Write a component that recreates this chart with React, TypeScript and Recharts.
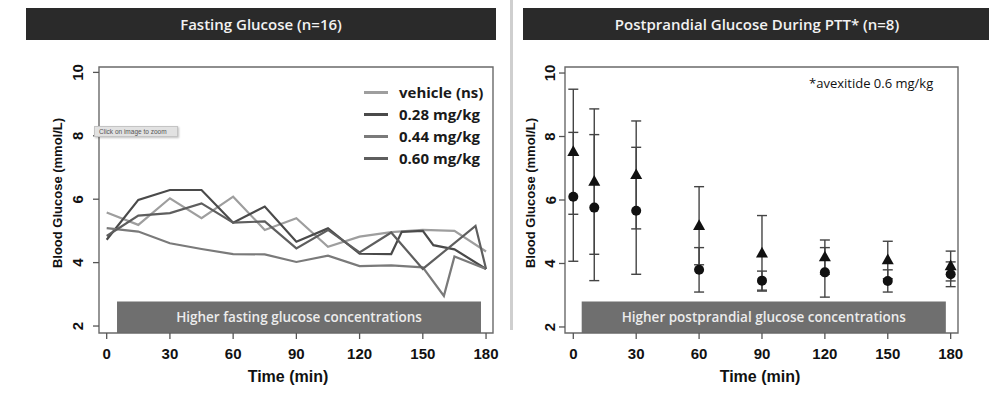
import React from 'react';
import {
  LineChart,
  Line,
  XAxis,
  YAxis,
  ReferenceArea,
  Legend,
  ComposedChart,
  Scatter,
  ErrorBar,
} from 'recharts';

// ---------- data ----------
const timeTicks = [0, 30, 60, 90, 120, 150, 180];
const glucoseTicks = [2, 4, 6, 8, 10];

const seriesNames = ['vehicle (ns)', '0.28 mg/kg', '0.44 mg/kg', '0.60 mg/kg'];

const vehicleTimes = [0, 15, 30, 45, 60, 75, 90, 105, 120, 135, 150, 165, 180];
const vehicleValues = [5.58, 5.19, 6.03, 5.4, 6.08, 5.03, 5.4, 4.5, 4.82, 4.96, 5.03, 5.0, 4.35];

const dose028Times = [0, 15, 30, 45, 60, 75, 90, 105, 120, 135, 140, 150, 155, 165, 180];
const dose028Values = [4.72, 5.98, 6.29, 6.29, 5.26, 5.77, 4.66, 5.08, 4.28, 4.27, 4.97, 5.0, 4.55, 4.42, 3.8];

const dose044Times = [0, 15, 30, 45, 60, 75, 90, 105, 120, 135, 150, 160, 165, 180];
const dose044Values = [5.09, 4.98, 4.61, 4.43, 4.27, 4.26, 4.02, 4.22, 3.89, 3.91, 3.85, 2.95, 4.19, 3.8];

const dose060Times = [0, 15, 30, 45, 60, 75, 90, 105, 120, 135, 150, 175, 180];
const dose060Values = [4.84, 5.48, 5.56, 5.87, 5.26, 5.3, 4.45, 5.03, 4.32, 4.95, 3.8, 5.16, 3.8];

const pptTimes = [0, 10, 30, 60, 90, 120, 150, 180];
const triangleMeans = [7.52, 6.58, 6.79, 5.19, 4.32, 4.2, 4.11, 3.92];
const triangleErrors = [1.97, 2.29, 1.7, 1.23, 1.19, 0.54, 0.59, 0.47];
const circleMeans = [6.1, 5.76, 5.66, 3.8, 3.46, 3.72, 3.45, 3.66];
const circleErrors = [2.03, 2.3, 2.0, 0.7, 0.3, 0.78, 0.35, 0.39];

const fastingBand = { x1: 4.9, x2: 177.6, top: 2.77 };
const ppBand = { x1: 4.0, x2: 177.7, top: 2.8 };

// ---------- helpers ----------
const zip = (ts: number[], vs: number[]) => ts.map((t, i) => ({ t, v: vs[i] }));
const zipErr = (ts: number[], vs: number[], es: number[]) =>
  ts.map((t, i) => ({ t, v: vs[i], e: es[i] }));

const vehicleData = zip(vehicleTimes, vehicleValues);
const dose028Data = zip(dose028Times, dose028Values);
const dose044Data = zip(dose044Times, dose044Values);
const dose060Data = zip(dose060Times, dose060Values);
const triangleData = zipErr(pptTimes, triangleMeans, triangleErrors);
const circleData = zipErr(pptTimes, circleMeans, circleErrors);

const LEFT_X_DOMAIN: [number, number] = [-3.65, 183.3];
const LEFT_Y_DOMAIN: [number, number] = [1.78, 10.17];
const RIGHT_X_DOMAIN: [number, number] = [-3.96, 183.5];
const RIGHT_Y_DOMAIN: [number, number] = [1.81, 10.19];

const ARIAL = '"Liberation Sans", Arial, sans-serif';
const OPEN = '"Open Sans", "Noto Sans", sans-serif';

const XTick = (props: any) => {
  const { x, y, payload } = props;
  return (
    <text x={x} y={y + 11} textAnchor="middle" fontFamily={ARIAL} fontWeight={700} fontSize={15} fill="#111">
      {payload.value}
    </text>
  );
};

const makeYTick = (bx: number) => (props: any) => {
  const { y, payload } = props;
  return (
    <text
      x={bx}
      y={y}
      transform={`rotate(-90, ${bx}, ${y})`}
      textAnchor="middle"
      fontFamily={ARIAL}
      fontWeight={700}
      fontSize={15}
      fill="#111"
    >
      {payload.value}
    </text>
  );
};

const makeYLabel = (bx: number, cy: number) => () => (
  <text
    x={bx}
    y={cy}
    transform={`rotate(-90, ${bx}, ${cy})`}
    textAnchor="middle"
    fontFamily={ARIAL}
    fontWeight={700}
    fontSize={13}
    fill="#111"
  >
    Blood Glucose (mmol/L)
  </text>
);

const makeXLabel = (cx: number) => () => (
  <text x={cx} y={382} textAnchor="middle" fontFamily={ARIAL} fontWeight={700} fontSize={16} fill="#111">
    Time (min)
  </text>
);

const makeBandLabel = (text: string) => (props: any) => {
  const vb = props.viewBox || {};
  return (
    <text
      x={vb.x + vb.width / 2}
      y={vb.y + vb.height / 2 + 5}
      textAnchor="middle"
      fontFamily={OPEN}
      fontWeight={600}
      fontSize={13.5}
      fill="#ececec"
    >
      {text}
    </text>
  );
};

const LegendContent = (props: any) => {
  const payload = [...(props.payload || [])].sort(
    (a: any, b: any) => seriesNames.indexOf(a.value) - seriesNames.indexOf(b.value)
  );
  return (
    <div>
      {payload.map((p: any, i: number) => (
        <div key={i} style={{ display: 'flex', alignItems: 'center', height: 22 }}>
          <div style={{ width: 24, height: 0, borderTop: `3px solid ${p.color}`, marginRight: 11 }} />
          <span style={{ fontFamily: OPEN, fontWeight: 700, fontSize: 15, color: '#1a1a1a', whiteSpace: 'nowrap' }}>
            {p.value}
          </span>
        </div>
      ))}
    </div>
  );
};

const TriangleShape = (props: any) => {
  const { cx, cy } = props;
  if (cx == null || cy == null) return null;
  return <path d={`M${cx},${cy - 6.5} L${cx + 6},${cy + 4.2} L${cx - 6},${cy + 4.2} Z`} fill="#111" />;
};
const CircleShape = (props: any) => {
  const { cx, cy } = props;
  if (cx == null || cy == null) return null;
  return <circle cx={cx} cy={cy} r={5} fill="#111" />;
};

const lineColors = ['#9e9e9e', '#4a4a4a', '#7a7a7a', '#5e5e5e'];

const titleStyle: React.CSSProperties = {
  position: 'absolute',
  top: 8,
  height: 32,
  background: '#2a2a2a',
  color: '#f2f2f2',
  fontFamily: OPEN,
  fontWeight: 600,
  fontSize: 15,
  display: 'flex',
  alignItems: 'center',
  justifyContent: 'center',
  whiteSpace: 'nowrap',
};

export default function App() {
  return (
    <div
      style={{
        position: 'absolute',
        left: 0,
        top: 0,
        width: 989,
        height: 406,
        background: '#fff',
        overflow: 'hidden',
      }}
    >
      {/* Title bars */}
      <div style={{ ...titleStyle, left: 26, width: 470 }}>Fasting Glucose (n=16)</div>
      <div style={{ ...titleStyle, left: 523, width: 468 }}>Postprandial Glucose During PTT* (n=8)</div>
      {/* divider */}
      <div style={{ position: 'absolute', left: 510, top: 0, width: 3, height: 330, background: '#cfcfcf' }} />

      {/* Left chart */}
      <div style={{ position: 'absolute', left: 0, top: 0 }}>
        <LineChart width={500} height={406} margin={{ top: 67, right: 7, left: 0, bottom: 0 }}>
          <XAxis
            dataKey="t"
            type="number"
            domain={LEFT_X_DOMAIN}
            ticks={timeTicks}
            allowDataOverflow
            height={73}
            axisLine={false}
            tickSize={6}
            tickMargin={9}
            tickLine={{ stroke: '#555', strokeWidth: 1.3 }}
            tick={<XTick />}
            label={makeXLabel(288)}
          />
          <YAxis
            dataKey="v"
            type="number"
            domain={LEFT_Y_DOMAIN}
            ticks={glucoseTicks}
            allowDataOverflow
            width={99}
            axisLine={false}
            tickSize={6}
            tickLine={{ stroke: '#555', strokeWidth: 1.3 }}
            tick={makeYTick(83.5)}
            label={makeYLabel(62, 193)}
          />
          <ReferenceArea
            x1={fastingBand.x1}
            x2={fastingBand.x2}
            y1={LEFT_Y_DOMAIN[0]}
            y2={fastingBand.top}
            fill="#6f6f6f"
            fillOpacity={1}
            stroke="none"
            ifOverflow="visible"
            label={makeBandLabel('Higher fasting glucose concentrations')}
          />
          <Line data={vehicleData} dataKey="v" name={seriesNames[0]} type="linear" stroke={lineColors[0]} strokeWidth={2.2} dot={false} isAnimationActive={false} />
          <Line data={dose028Data} dataKey="v" name={seriesNames[1]} type="linear" stroke={lineColors[1]} strokeWidth={2.2} dot={false} isAnimationActive={false} />
          <Line data={dose044Data} dataKey="v" name={seriesNames[2]} type="linear" stroke={lineColors[2]} strokeWidth={2.2} dot={false} isAnimationActive={false} />
          <Line data={dose060Data} dataKey="v" name={seriesNames[3]} type="linear" stroke={lineColors[3]} strokeWidth={2.2} dot={false} isAnimationActive={false} />
          <ReferenceArea
            x1={LEFT_X_DOMAIN[0]}
            x2={LEFT_X_DOMAIN[1]}
            y1={LEFT_Y_DOMAIN[0]}
            y2={LEFT_Y_DOMAIN[1]}
            fill="none"
            stroke="#6a6a6a"
            strokeWidth={1.4}
            ifOverflow="visible"
          />
          <Legend
            layout="vertical"
            align="center"
            verticalAlign="middle"
            content={<LegendContent />}
            wrapperStyle={{ position: 'absolute', left: 364, top: 81, width: 'auto', height: 'auto' }}
          />
        </LineChart>
      </div>

      {/* Click-to-zoom overlay artifact */}
      <div
        style={{
          position: 'absolute',
          left: 94,
          top: 126,
          width: 84,
          height: 11,
          background: '#e2e2e2',
          border: '1px solid #c4c4c4',
          boxShadow: '1px 1px 2px rgba(0,0,0,0.25)',
          fontFamily: ARIAL,
          fontSize: 6.5,
          color: '#555',
          lineHeight: '10px',
          paddingLeft: 4,
          boxSizing: 'border-box',
          whiteSpace: 'nowrap',
        }}
      >
        Click on image to zoom
      </div>

      {/* Right chart */}
      <div style={{ position: 'absolute', left: 500, top: 0 }}>
        <ComposedChart width={489} height={406} margin={{ top: 67, right: 31, left: 0, bottom: 0 }}>
          <XAxis
            dataKey="t"
            type="number"
            domain={RIGHT_X_DOMAIN}
            ticks={timeTicks}
            allowDataOverflow
            height={73}
            axisLine={false}
            tickSize={6}
            tickMargin={9}
            tickLine={{ stroke: '#555', strokeWidth: 1.3 }}
            tick={<XTick />}
            label={makeXLabel(260)}
          />
          <YAxis
            dataKey="v"
            type="number"
            domain={RIGHT_Y_DOMAIN}
            ticks={glucoseTicks}
            allowDataOverflow
            width={65}
            axisLine={false}
            tickSize={6}
            tickLine={{ stroke: '#555', strokeWidth: 1.3 }}
            tick={makeYTick(55.5)}
            label={makeYLabel(34.5, 193)}
          />
          <ReferenceArea
            x1={ppBand.x1}
            x2={ppBand.x2}
            y1={RIGHT_Y_DOMAIN[0]}
            y2={ppBand.top}
            fill="#6f6f6f"
            fillOpacity={1}
            stroke="none"
            ifOverflow="visible"
            label={makeBandLabel('Higher postprandial glucose concentrations')}
          />
          <Scatter data={triangleData} dataKey="v" shape={<TriangleShape />} isAnimationActive={false}>
            <ErrorBar dataKey="e" direction="y" width={5} stroke="#444" strokeWidth={1.4} />
          </Scatter>
          <Scatter data={circleData} dataKey="v" shape={<CircleShape />} isAnimationActive={false}>
            <ErrorBar dataKey="e" direction="y" width={5} stroke="#444" strokeWidth={1.4} />
          </Scatter>
          <ReferenceArea
            x1={RIGHT_X_DOMAIN[0]}
            x2={RIGHT_X_DOMAIN[1]}
            y1={RIGHT_Y_DOMAIN[0]}
            y2={RIGHT_Y_DOMAIN[1]}
            fill="none"
            stroke="#6a6a6a"
            strokeWidth={1.4}
            ifOverflow="visible"
          />
        </ComposedChart>
      </div>

      {/* footnote */}
      <div
        style={{
          position: 'absolute',
          left: 809,
          top: 74,
          fontFamily: OPEN,
          fontSize: 13,
          color: '#111',
          whiteSpace: 'nowrap',
          lineHeight: '18px',
        }}
      >
        *avexitide 0.6 mg/kg
      </div>
    </div>
  );
}
